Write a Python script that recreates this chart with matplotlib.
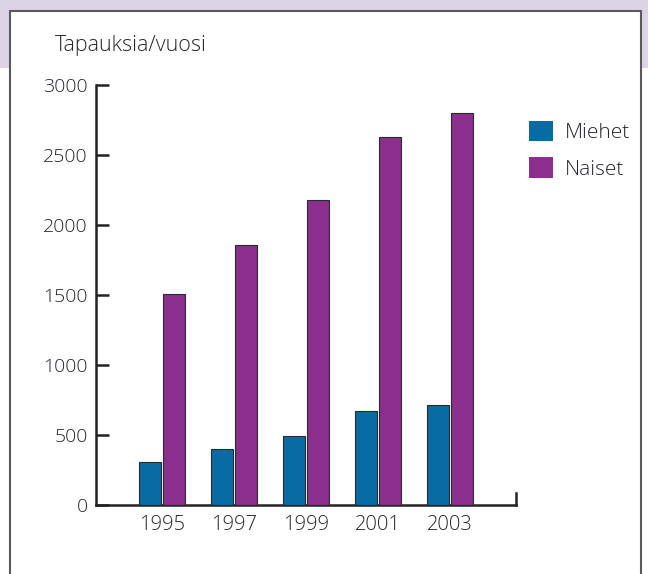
import numpy as np
import matplotlib.pyplot as plt
from matplotlib.patches import Rectangle

plt.rcParams['font.family'] = ['Open Sans', 'DejaVu Sans']
plt.rcParams['font.weight'] = 'light'

YEARS = ['1995', '1997', '1999', '2001', '2003']
MIEHET = [310, 400, 490, 670, 715]
NAISET = [1510, 1860, 2180, 2630, 2800]
SERIES = ['Miehet', 'Naiset']
COLORS = ['#0a6aa3', '#8a2f8b']
TEXT_COL = '#22252b'


def plot_chart():
    fig = plt.figure(figsize=(6.48, 5.74), dpi=100)

    # Taustan laatikot: violetti yläpalkki ja valkoinen kehys
    fig.patches.append(Rectangle((0, 1 - 68 / 574), 1, 68 / 574, transform=fig.transFigure,
                                 facecolor='#ddd3e7', edgecolor='none', zorder=0))
    fig.patches.append(Rectangle((9.5 / 648, -0.05), (641 - 9.5) / 648, 1.05 - 10.5 / 574,
                                 transform=fig.transFigure, facecolor='white',
                                 edgecolor='#5a5a5a', linewidth=1.5, zorder=1))

    ax = fig.add_axes([96 / 648, 1 - 505 / 574, 420 / 648, 420 / 574])
    ax.set_zorder(3)
    ax.set_facecolor('none')

    x = np.arange(len(YEARS))
    w = 22 / 72
    off = 12 / 72
    for vals, d, c, lab in zip([MIEHET, NAISET], [-off, off], COLORS, SERIES):
        ax.bar(x + d, vals, width=w, color=c, edgecolor='#2a2a2a', linewidth=0.8,
               label=lab, zorder=3)

    ax.set_xlim(-66 / 72, 4 + 66 / 72)
    ax.set_ylim(0, 3000)
    ax.set_yticks(range(0, 3001, 500))
    ax.set_xticks(x)
    ax.set_xticklabels(YEARS)

    ax.spines['top'].set_visible(False)
    ax.spines['right'].set_bounds(0, 85)
    for s in ['left', 'bottom', 'right']:
        ax.spines[s].set_color('#222222')
        ax.spines[s].set_linewidth(1.8)

    ax.tick_params(axis='y', direction='in', length=9, width=1.8, color='#222222',
                   labelsize=14, labelcolor=TEXT_COL, pad=6)
    ax.tick_params(axis='x', length=0, labelsize=14.5, labelcolor=TEXT_COL, pad=7)

    fig.text(55 / 648, 1 - 45 / 574, 'Tapauksia/vuosi', fontsize=15.5, color=TEXT_COL,
             va='center', ha='left', zorder=4)

    leg = ax.legend(loc='upper left', bbox_to_anchor=(510 / 648, 1 - 102 / 574),
                    bbox_transform=fig.transFigure, frameon=False, fontsize=15,
                    handlelength=1.15, handleheight=1.15, handletextpad=0.58,
                    labelspacing=0.68, labelcolor=TEXT_COL)
    for h in leg.legend_handles:
        h.set_edgecolor('none')

    fig.savefig('out.png', dpi=100)


plot_chart()
